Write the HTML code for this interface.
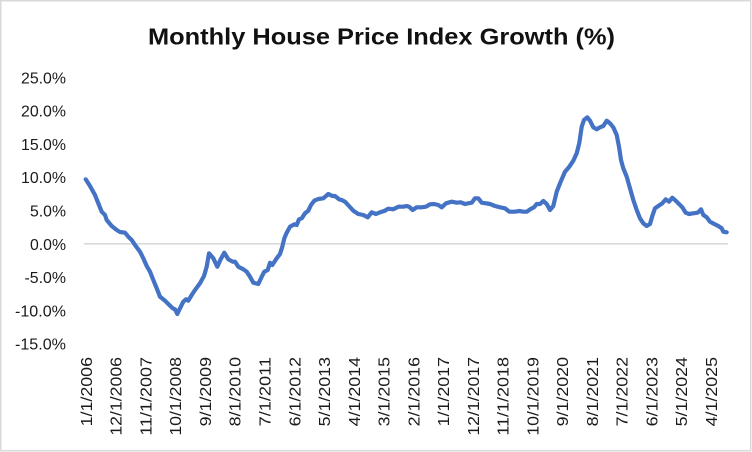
<!DOCTYPE html>
<html>
<head>
<meta charset="utf-8">
<style>
  html, body { margin:0; padding:0; background:#fff; }
  svg { display:block; }
  text { font-family: "Liberation Sans", "DejaVu Sans", sans-serif; }
</style>
</head>
<body>
<svg width="752" height="452" viewBox="0 0 752 452" xmlns="http://www.w3.org/2000/svg">
  <rect x="0" y="0" width="752" height="452" fill="#fff"/>
  <rect x="0.75" y="0.75" width="750" height="450" fill="none" stroke="#d9d9d9" stroke-width="1.5"/>

  <!-- Title -->
  <text x="148" y="44.3" font-size="23" font-weight="bold" fill="#111" textLength="467" lengthAdjust="spacingAndGlyphs">Monthly House Price Index Growth (%)</text>

  <!-- Y axis labels -->
  <g font-size="16" fill="#1a1a1a" text-anchor="end">
    <text x="66" y="83.3" textLength="45" lengthAdjust="spacingAndGlyphs">25.0%</text>
    <text x="66" y="116.6" textLength="45" lengthAdjust="spacingAndGlyphs">20.0%</text>
    <text x="66" y="149.9" textLength="45" lengthAdjust="spacingAndGlyphs">15.0%</text>
    <text x="66" y="183.2" textLength="45" lengthAdjust="spacingAndGlyphs">10.0%</text>
    <text x="66" y="216.5" textLength="36" lengthAdjust="spacingAndGlyphs">5.0%</text>
    <text x="66" y="249.8" textLength="36" lengthAdjust="spacingAndGlyphs">0.0%</text>
    <text x="66" y="283.1" textLength="41.5" lengthAdjust="spacingAndGlyphs">-5.0%</text>
    <text x="66" y="316.4" textLength="51" lengthAdjust="spacingAndGlyphs">-10.0%</text>
    <text x="66" y="349.7" textLength="51" lengthAdjust="spacingAndGlyphs">-15.0%</text>
  </g>

  <!-- Zero line -->
  <line x1="84" y1="243.8" x2="728" y2="243.8" stroke="#d9d9d9" stroke-width="1.6"/>

  <!-- X axis labels -->
  <g font-size="16" fill="#1a1a1a" text-anchor="end">
    <text transform="translate(91.9,357) rotate(-90)" textLength="69.4" lengthAdjust="spacingAndGlyphs">1/1/2006</text>
    <text transform="translate(121.7,357) rotate(-90)" textLength="78.7" lengthAdjust="spacingAndGlyphs">12/1/2006</text>
    <text transform="translate(151.4,357) rotate(-90)" textLength="78.7" lengthAdjust="spacingAndGlyphs">11/1/2007</text>
    <text transform="translate(181.2,357) rotate(-90)" textLength="78.7" lengthAdjust="spacingAndGlyphs">10/1/2008</text>
    <text transform="translate(211.0,357) rotate(-90)" textLength="69.4" lengthAdjust="spacingAndGlyphs">9/1/2009</text>
    <text transform="translate(240.7,357) rotate(-90)" textLength="69.4" lengthAdjust="spacingAndGlyphs">8/1/2010</text>
    <text transform="translate(270.5,357) rotate(-90)" textLength="69.4" lengthAdjust="spacingAndGlyphs">7/1/2011</text>
    <text transform="translate(300.3,357) rotate(-90)" textLength="69.4" lengthAdjust="spacingAndGlyphs">6/1/2012</text>
    <text transform="translate(330.0,357) rotate(-90)" textLength="69.4" lengthAdjust="spacingAndGlyphs">5/1/2013</text>
    <text transform="translate(359.8,357) rotate(-90)" textLength="69.4" lengthAdjust="spacingAndGlyphs">4/1/2014</text>
    <text transform="translate(389.6,357) rotate(-90)" textLength="69.4" lengthAdjust="spacingAndGlyphs">3/1/2015</text>
    <text transform="translate(419.3,357) rotate(-90)" textLength="69.4" lengthAdjust="spacingAndGlyphs">2/1/2016</text>
    <text transform="translate(449.1,357) rotate(-90)" textLength="69.4" lengthAdjust="spacingAndGlyphs">1/1/2017</text>
    <text transform="translate(478.9,357) rotate(-90)" textLength="78.7" lengthAdjust="spacingAndGlyphs">12/1/2017</text>
    <text transform="translate(508.6,357) rotate(-90)" textLength="78.7" lengthAdjust="spacingAndGlyphs">11/1/2018</text>
    <text transform="translate(538.4,357) rotate(-90)" textLength="78.7" lengthAdjust="spacingAndGlyphs">10/1/2019</text>
    <text transform="translate(568.2,357) rotate(-90)" textLength="69.4" lengthAdjust="spacingAndGlyphs">9/1/2020</text>
    <text transform="translate(597.9,357) rotate(-90)" textLength="69.4" lengthAdjust="spacingAndGlyphs">8/1/2021</text>
    <text transform="translate(627.7,357) rotate(-90)" textLength="69.4" lengthAdjust="spacingAndGlyphs">7/1/2022</text>
    <text transform="translate(657.5,357) rotate(-90)" textLength="69.4" lengthAdjust="spacingAndGlyphs">6/1/2023</text>
    <text transform="translate(687.2,357) rotate(-90)" textLength="69.4" lengthAdjust="spacingAndGlyphs">5/1/2024</text>
    <text transform="translate(717.0,357) rotate(-90)" textLength="69.4" lengthAdjust="spacingAndGlyphs">4/1/2025</text>
  </g>

  <!-- Series line -->
  <polyline fill="none" stroke="#4472C4" stroke-width="4.2" stroke-linejoin="round" stroke-linecap="round"
    points="85.7,179.3 90,186 95,195 98.3,203.3 101.7,211.7 105,215 106.7,220 111.7,226 116.7,230 120,232 125,232.7 128.3,236.7 131.7,240 135,245 140,251.7 143.3,258.3 146.7,266 150,271.7 153.3,280 156.7,288.3 160,296.7 165,300.7 169.3,305 172.7,308.3 175,309.3 177.3,314 180,308.3 183.3,301.7 186,299.3 188.3,300.7 191.7,295 195,290 200,283.3 204,276 206.7,266.7 209,253.3 213.3,258.3 217.3,266.7 220.7,259.3 224.3,252.7 228.3,259.3 232.7,261.7 235,261.7 238.3,266.7 243.3,269.3 246.7,271.7 250,276.7 253.3,282.7 258.3,284 261.7,276.7 264.3,271.7 267.7,270 270,262.7 272.3,265 276.7,258.3 280,254 282.3,246.7 284.3,238.3 286.7,232.7 290,226.7 294.3,224.3 296.7,225 299,219.3 301.7,218.3 305,213.3 308.3,210.7 311,205 314.3,200.7 318.3,199 323.3,198.3 328.3,194 332.3,196 335,196 339,199.3 341.7,200 345,201.7 349,206 353.3,210.7 358.3,214 363.3,215 367.7,217.3 371.7,212.3 376,214 380,212.3 384.3,211 388.3,208.7 393.3,209.3 398.3,206.7 403.3,206.7 406.7,206 409,206.7 412.7,210 416.7,207.3 421.7,207.3 426,206.7 430,204.3 434,204 438.3,205 441.7,207.3 446,203.3 451.7,201.7 456.7,202.7 460.7,202.3 465,204 468.3,203.3 471.7,202.7 475,198.3 478.3,198.3 481.7,202.7 486,203.3 490,204 495,206 500,207.3 505,208.3 509.3,211.7 515,211.7 519.3,211 523.3,211.7 526.7,211.7 530.7,209 534,207.3 536.7,204 540,204 543.3,201 546.7,204 550,210 553.3,206 556.7,191.7 560.7,181.7 565,171.7 569.3,166.7 573.3,160.7 576.7,153.3 579.3,143 581.7,126.7 584,120 587.3,117.3 590,120.7 593.3,127.3 596.7,129.3 600,127.3 603.3,126 606.7,120.7 610,123.3 613.3,127.3 616.7,135 619,146.7 621,160 623.3,168.3 626.7,176.7 630,188.3 633.3,200 636.7,210 640,218.3 643.3,223.3 646.7,226 650,224 652.3,216 655,208.3 658.3,206 662.3,203.3 665.7,199.3 669,201.7 672.3,197.7 675.7,200.7 679,204 682.3,207.3 685.7,212.7 689,214 693.3,213.3 697.7,212.7 701,209.3 703.3,215 706.7,217.3 710,221.7 714.3,224 718.3,226 721.7,228.3 723.3,231.7 726.7,232.3"/>
</svg>
</body>
</html>
